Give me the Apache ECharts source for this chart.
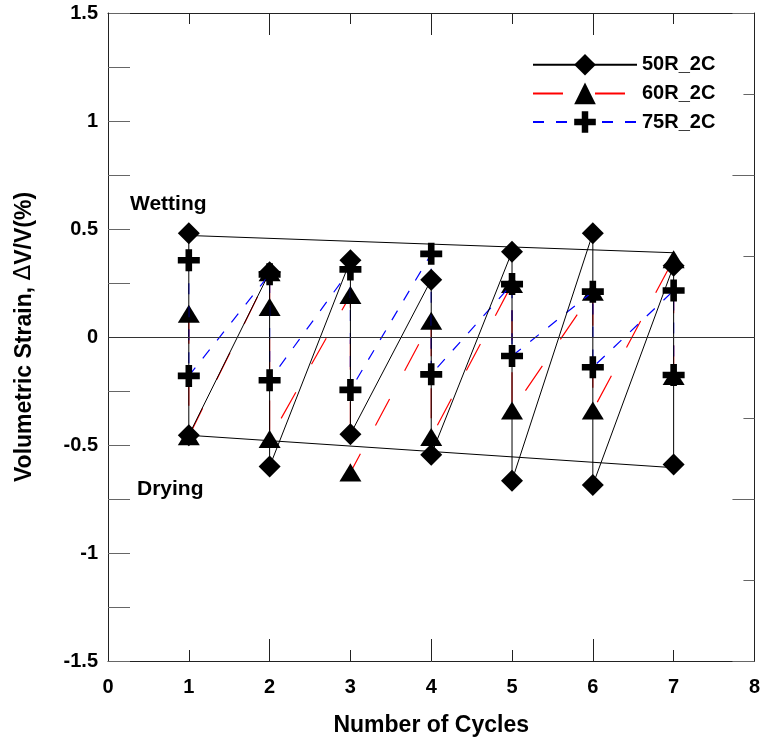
<!DOCTYPE html>
<html>
<head>
<meta charset="utf-8">
<script src="https://cdn.jsdelivr.net/npm/echarts@6/dist/echarts.min.js"></script>
<style>
  html, body { margin: 0; padding: 0; background: #fff; }
  #chart { width: 763px; height: 744px; }
</style>
</head>
<body>
<div id="chart"></div>
<script>
// cycle positions and read-off strain values (%)
const xLabels = [0, 1, 2, 3, 4, 5, 6, 7, 8]

const x50 = [1, 1, 2, 2, 3, 3, 4, 4, 5, 5, 6, 6, 7, 7]
const y50 = [0.48, -0.455, 0.30, -0.60, 0.355, -0.45, 0.265, -0.545, 0.395, -0.665, 0.48, -0.685, 0.33, -0.59]

const x60 = [1, 1, 2, 2, 2, 3, 3, 4, 4, 5, 5, 6, 6, 7, 7]
const y60 = [0.108, -0.46, 0.30, 0.139, -0.472, 0.194, -0.627, 0.075, -0.463, 0.245, -0.34, 0.21, -0.34, 0.36, -0.18]

const x75 = [1, 1, 2, 2, 3, 3, 4, 4, 5, 5, 6, 6, 7, 7]
const y75 = [0.355, -0.18, 0.29, -0.20, 0.313, -0.245, 0.385, -0.173, 0.245, -0.088, 0.21, -0.14, 0.215, -0.176]

// envelope lines joining wetting / drying ends
const envX = [1, 7]
const envTop = [0.47, 0.39]
const envBottom = [-0.455, -0.605]

const FONT = '"Liberation Sans", Arial, sans-serif'
const PLUS = 'path://M7,0H13V7H20V13H13V20H7V13H0V7H7Z'

function pairs(xs, ys) {
  return xs.map((x, i) => [x, ys[i]])
}

const myChart = echarts.init(document.getElementById('chart'))

const axisColor = '#222'
const tickColor = '#666'

const option = {
  animation: false,
  backgroundColor: '#fff',
  grid: { left: 108, right: 8, top: 13, bottom: 83, containLabel: false },
  legend: {
    data: ['50R_2C', '60R_2C', '75R_2C'],
    orient: 'vertical',
    left: 527,
    top: 49,
    itemWidth: 104,
    itemHeight: 27,
    itemGap: 7,
    textStyle: { fontSize: 20, fontWeight: 'bold', color: '#000', fontFamily: FONT }
  },
  xAxis: [
    {
      type: 'value',
      min: 0,
      max: 8,
      interval: 2,
      position: 'bottom',
      name: 'Number of Cycles',
      nameLocation: 'middle',
      nameGap: 53,
      nameTextStyle: { fontSize: 23, fontWeight: 'bold', color: '#000', fontFamily: FONT },
      axisLine: { onZero: false, lineStyle: { color: axisColor, width: 1 } },
      axisTick: { inside: true, length: 22, lineStyle: { color: axisColor } },
      minorTick: { show: true, splitNumber: 2, length: 11, lineStyle: { color: axisColor } },
      axisLabel: {
        customValues: xLabels,
        margin: 16,
        fontSize: 20,
        fontWeight: 'bold',
        color: '#000',
        fontFamily: FONT
      },
      splitLine: { show: false }
    },
    {
      type: 'value',
      min: 0,
      max: 8,
      interval: 2,
      position: 'top',
      axisLine: { onZero: false, lineStyle: { color: axisColor, width: 1 } },
      axisTick: { inside: true, length: 22, lineStyle: { color: axisColor } },
      minorTick: { show: true, splitNumber: 2, length: 11, lineStyle: { color: axisColor } },
      axisLabel: { show: false },
      splitLine: { show: false }
    }
  ],
  yAxis: [
    {
      type: 'value',
      min: -1.5,
      max: 1.5,
      interval: 0.5,
      position: 'left',
      name: '{a|Volumetric Strain, }{d|\u0394}{a|V/V(%)}',
      nameLocation: 'middle',
      nameGap: 72,
      nameTextStyle: {
        rich: {
          a: { fontSize: 23, fontWeight: 'bold', color: '#000', fontFamily: FONT },
          d: { fontSize: 23, fontWeight: 'normal', color: '#000', fontFamily: '"DejaVu Sans", sans-serif' }
        }
      },
      axisLine: { onZero: false, lineStyle: { color: axisColor, width: 1 } },
      axisTick: { inside: true, length: 22, lineStyle: { color: tickColor } },
      minorTick: { show: true, splitNumber: 2, length: 22, lineStyle: { color: tickColor } },
      axisLabel: { margin: 10, fontSize: 20, fontWeight: 'bold', color: '#000', fontFamily: FONT },
      splitLine: { show: false }
    },
    {
      type: 'value',
      min: -1.5,
      max: 1.5,
      interval: 0.75,
      position: 'right',
      axisLine: { onZero: false, lineStyle: { color: axisColor, width: 1 } },
      axisTick: { inside: true, length: 22, lineStyle: { color: tickColor } },
      minorTick: { show: true, splitNumber: 2, length: 11, lineStyle: { color: tickColor } },
      axisLabel: { show: false },
      splitLine: { show: false }
    }
  ],
  graphic: [
    {
      type: 'text',
      left: 130,
      top: 194,
      style: { text: 'Wetting', font: 'bold 21px ' + FONT, fill: '#000' }
    },
    {
      type: 'text',
      left: 137,
      top: 479,
      style: { text: 'Drying', font: 'bold 21px ' + FONT, fill: '#000' }
    }
  ],
  series: [
    {
      name: 'envTop',
      type: 'line',
      data: pairs(envX, envTop),
      showSymbol: false,
      symbol: 'none',
      lineStyle: { color: '#000', width: 1 },
      z: 1,
      markLine: {
        silent: true,
        symbol: 'none',
        label: { show: false },
        lineStyle: { color: '#333', width: 1, type: 'solid' },
        data: [{ yAxis: 0 }]
      }
    },
    {
      name: 'envBottom',
      type: 'line',
      data: pairs(envX, envBottom),
      showSymbol: false,
      symbol: 'none',
      lineStyle: { color: '#000', width: 1 },
      z: 1
    },
    {
      name: '60R_2C',
      type: 'line',
      data: pairs(x60, y60),
      symbol: 'triangle',
      symbolSize: [22, 18],
      itemStyle: { color: '#000' },
      lineStyle: { color: '#ff0000', width: 1.2, type: [30, 32] },
      z: 2
    },
    {
      name: '75R_2C',
      type: 'line',
      data: pairs(x75, y75),
      symbol: PLUS,
      symbolSize: [22, 22],
      itemStyle: { color: '#000' },
      lineStyle: { color: '#0000ff', width: 1.2, type: [11, 12] },
      z: 3
    },
    {
      name: '50R_2C',
      type: 'line',
      data: pairs(x50, y50),
      symbol: 'diamond',
      symbolSize: [22, 22],
      itemStyle: { color: '#000' },
      lineStyle: { color: '#000', width: 1 },
      z: 4
    }
  ]
}

myChart.setOption(option)
</script>
</body>
</html>
